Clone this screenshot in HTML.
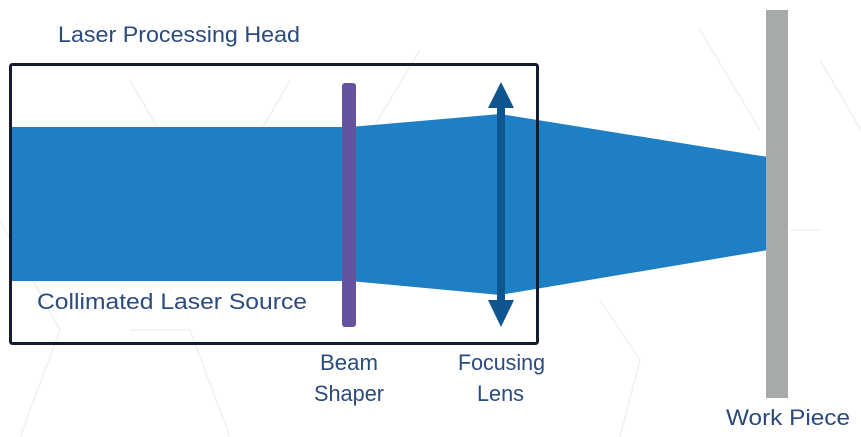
<!DOCTYPE html>
<html><head><meta charset="utf-8"><style>
html,body{margin:0;padding:0;background:#fff;}
svg{display:block}
text{font-family:"Liberation Sans",sans-serif;font-size:22px;fill:#2b4a7d;}
</style></head><body>
<svg width="861" height="437" viewBox="0 0 861 437" xmlns="http://www.w3.org/2000/svg">
<g stroke="#f0f0f2" stroke-width="1.5" fill="none">
<path d="M130 80 L170 150 L250 150 L290 80 M170 150 L130 220 M250 150 L290 220 M360 150 L420 50 M360 150 L400 220 M0 220 L60 330 M60 330 L20 437 M130 330 L190 330 L230 437 M600 300 L640 360 L620 437 M700 30 L760 130 M790 230 L820 230 M820 60 L861 130"/>
</g>
<polygon points="10,127 350,127 500,114 768,157 768,250 500,295 350,281 10,281" fill="#1f7fc4"/>
<rect x="10.5" y="64.5" width="527" height="279" fill="none" stroke="#141c2e" stroke-width="3" rx="2"/>
<rect x="342" y="83" width="14" height="244" rx="3" fill="#6552a0"/>
<rect x="497" y="104" width="8" height="200" fill="#0f5590"/>
<polygon points="501,82 488,108 514,108" fill="#0f5590"/>
<polygon points="501,327 488,300 514,300" fill="#0f5590"/>
<rect x="766" y="10" width="22" height="388" fill="#a7aaab"/>
<text x="58" y="42" textLength="242" lengthAdjust="spacingAndGlyphs">Laser  Processing  Head</text>
<text x="37" y="309" textLength="270" lengthAdjust="spacingAndGlyphs">Collimated  Laser  Source</text>
<text x="320" y="370" textLength="58" lengthAdjust="spacingAndGlyphs">Beam</text>
<text x="314" y="401" textLength="70" lengthAdjust="spacingAndGlyphs">Shaper</text>
<text x="458" y="370" textLength="87" lengthAdjust="spacingAndGlyphs">Focusing</text>
<text x="477" y="401" textLength="47" lengthAdjust="spacingAndGlyphs">Lens</text>
<text x="726" y="425" textLength="124" lengthAdjust="spacingAndGlyphs">Work  Piece</text>
</svg>
</body></html>
